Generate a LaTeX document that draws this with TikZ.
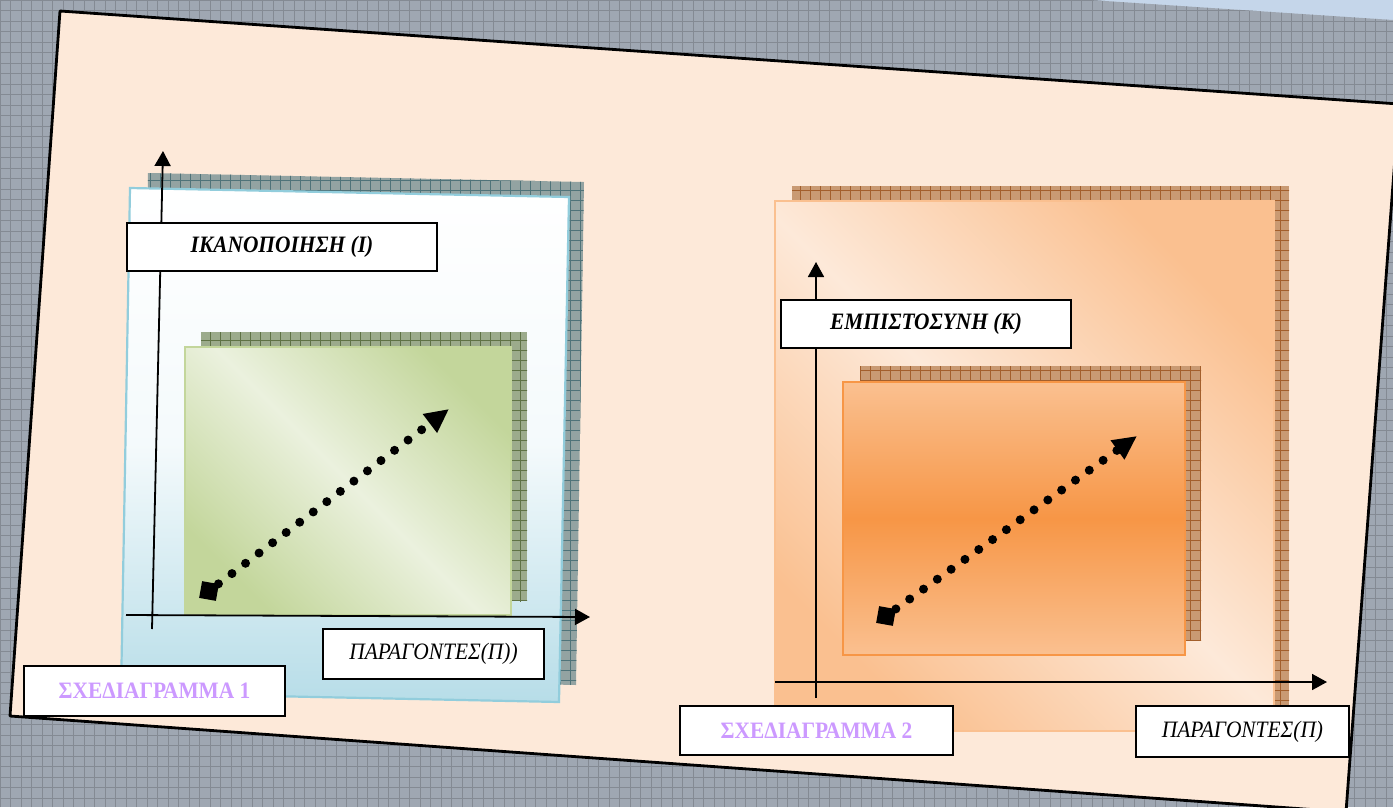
\documentclass[tikz,border=0pt]{standalone}
\usepackage{fontspec}
\setmainfont{Liberation Serif}[FakeStretch=0.91]
\usetikzlibrary{arrows.meta}
\definecolor{bgblue}{HTML}{C5D6EA}
\definecolor{bggrid}{HTML}{9FA7B2}
\definecolor{bgline}{HTML}{848A93}
\definecolor{peach}{HTML}{FDE9D9}
\definecolor{tealbase}{HTML}{93A3A2}
\definecolor{tealline}{HTML}{4F7379}
\definecolor{greenbase}{HTML}{9CAB8C}
\definecolor{greenline}{HTML}{5F7245}
\definecolor{brownbase}{HTML}{C99A73}
\definecolor{brownline}{HTML}{A35F2C}
\definecolor{panelblue}{HTML}{B7DDE8}
\definecolor{panelblueedge}{HTML}{92CDDC}
\definecolor{greendark}{HTML}{C3D69B}
\definecolor{greenlight}{HTML}{EBF1DE}
\definecolor{orlight}{HTML}{FAC090}
\definecolor{ordark}{HTML}{F79646}
\definecolor{lilac}{HTML}{CC99FF}
\tikzset{
  lbl/.style={draw=black, line width=2pt, fill=white, inner sep=0pt, align=center},
  bolditfont/.style={font=\fontsize{23.5}{27}\selectfont\bfseries\itshape},
  itfont/.style={font=\fontsize{23.5}{27}\selectfont\itshape},
  titfont/.style={font=\fontsize{23.5}{27}\selectfont\bfseries, text=lilac},
  axisline/.style={line width=1.8pt, -{Triangle[length=15pt,width=16pt]}},
  dotarrow/.style={line width=9pt, line cap=round, dash pattern=on 0pt off 17pt,
     -{Triangle[length=24pt,width=22pt]}},
  sqr/.style={fill=black, minimum size=17pt, inner sep=0pt, rotate=-10},
}
\begin{document}
\begin{tikzpicture}[x=1pt,y=-1pt]
\useasboundingbox (0,0) rectangle (1393,807);
% background
\fill[bgblue] (0,0) rectangle (1393,807);
\begin{scope}
  \clip (0,0) -- (1090,0) -- (1393,20) -- (1393,807) -- (0,807) -- cycle;
  \fill[bggrid] (0,0) rectangle (1393,807);
  \draw[bgline, line width=0.8pt, step=10.5pt] (0,0) grid (1393,807);
\end{scope}
% page
\filldraw[fill=peach, draw=black, line width=2.8pt, line join=round]
  (60,11) -- (1399,104) -- (1346,812) -- (10,716) -- cycle;

% ---------- left diagram ----------
\begin{scope}
  \clip (148,173) -- (584,182) -- (576,685) -- (140,676) -- cycle;
  \fill[tealbase] (130,160) rectangle (600,700);
  \draw[tealline, line width=0.8pt, step=10pt] (130,160) grid (600,700);
\end{scope}
\shade[top color=white, bottom color=panelblue, middle color=panelblue!15!white]
  (130,188) -- (569,197) -- (559,702) -- (121,693) -- cycle;
\draw[panelblueedge, line width=2.2pt]
  (130,188) -- (569,197) -- (559,702) -- (121,693) -- cycle;
\begin{scope}
  \clip (201,332) rectangle (527,601);
  \fill[greenbase] (201,332) rectangle (527,601);
  \draw[greenline, line width=0.8pt, step=10pt] (190,320) grid (540,610);
\end{scope}
\shade[left color=greendark, right color=greendark, middle color=greenlight, shading angle=-45]
  (185,347) rectangle (511,615);
\draw[greendark, line width=2.2pt] (185,347) rectangle (511,615);

\coordinate (v1s) at (152,629);
\coordinate (v1e) at (163,151);
\coordinate (h1s) at (126,615);
\coordinate (h1e) at (590,617);
\draw[axisline] (v1s) -- (v1e);
\draw[axisline] (h1s) -- (h1e);

\node[lbl, bolditfont, minimum width=310pt, minimum height=48pt] (ik) at (282,247) {ΙΚΑΝΟΠΟΙΗΣΗ (Ι)};
\node[lbl, itfont, minimum width=221pt, minimum height=50pt] (p1) at (433.5,654) {ΠΑΡΑΓΟΝΤΕΣ(Π))};
\node[lbl, titfont, minimum width=261pt, minimum height=50pt] (s1) at (154.5,691) {ΣΧΕΔΙΑΓΡΑΜΜΑ 1};

\node[sqr] (sq1) at (209,591) {};
\coordinate (t1) at (449,409);
\draw[dotarrow] (sq1) -- (t1);

% ---------- right diagram ----------
\begin{scope}
  \clip (792,186) rectangle (1289,706);
  \fill[brownbase] (792,186) rectangle (1289,706);
  \draw[brownline, line width=0.8pt, step=10pt] (780,180) grid (1300,710);
\end{scope}
\shade[left color=orlight, right color=orlight, middle color=peach, shading angle=-45]
  (775,201) rectangle (1274,731);
\draw[orlight, line width=2.2pt] (775,201) rectangle (1274,731);
\begin{scope}
  \clip (860,366) rectangle (1201,640);
  \fill[brownbase] (860,366) rectangle (1201,640);
  \draw[brownline, line width=0.8pt, step=10pt] (850,360) grid (1210,650);
\end{scope}
\shade[top color=orlight, bottom color=orlight, middle color=ordark]
  (843,382) rectangle (1185,655);
\draw[ordark, line width=2.2pt] (843,382) rectangle (1185,655);

\coordinate (v2s) at (816,698);
\coordinate (v2e) at (816,262);
\coordinate (h2s) at (775,682);
\coordinate (h2e) at (1327,682);
\draw[axisline] (v2s) -- (v2e);
\draw[axisline] (h2s) -- (h2e);

\node[lbl, bolditfont, minimum width=290pt, minimum height=48pt] (em) at (926,324) {ΕΜΠΙΣΤΟΣΥΝΗ (Κ)};
\node[lbl, titfont, minimum width=273pt, minimum height=49pt] (s2) at (816.5,730.5) {ΣΧΕΔΙΑΓΡΑΜΜΑ 2};
\node[lbl, itfont, minimum width=213pt, minimum height=51pt] (p2) at (1242.5,731.5) {ΠΑΡΑΓΟΝΤΕΣ(Π)};

\node[sqr] (sq2) at (886,616) {};
\coordinate (t2) at (1137,436);
\draw[dotarrow] (sq2) -- (t2);
\end{tikzpicture}
\end{document}
